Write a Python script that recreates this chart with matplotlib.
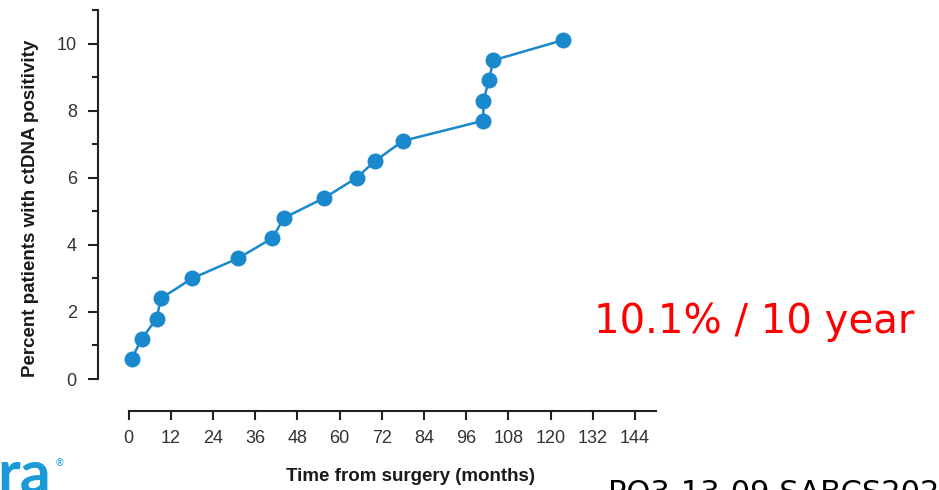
import matplotlib
matplotlib.use("Agg")
import matplotlib.pyplot as plt
from matplotlib.ticker import MultipleLocator

# Cumulative ctDNA positivity over time since surgery
months = [0.9, 3.75, 8.0, 9.2, 18.1, 31.2, 40.9, 44.2, 55.7, 64.9, 70.1,
          78.1, 100.9, 100.9, 102.5, 103.7, 123.5]
percent_positive = [0.6, 1.2, 1.8, 2.4, 3.0, 3.6, 4.2, 4.8, 5.4, 6.0, 6.5,
                    7.1, 7.7, 8.3, 8.9, 9.5, 10.1]

x_ticks = list(range(0, 145, 12))
y_ticks = [0, 2, 4, 6, 8, 10]

line_color = "#1a88cc"
axis_color = "#222222"
label_font = ["Liberation Sans", "DejaVu Sans"]

fig = plt.figure(figsize=(9.39, 4.90), dpi=100)
ax = fig.add_axes([0.13685, 0.22653, 0.56177, 0.75306])

ax.plot(months, percent_positive, color=line_color, lw=1.8,
        marker="o", markersize=11.5, markeredgewidth=0, clip_on=False)

ax.set_xlim(0, 150)
ax.set_ylim(0, 11)
ax.set_xticks(x_ticks)
ax.set_yticks(y_ticks)
ax.yaxis.set_minor_locator(MultipleLocator(1))

for side in ("top", "right"):
    ax.spines[side].set_visible(False)
ax.spines["left"].set_position(("outward", 22))
ax.spines["bottom"].set_position(("outward", 23))
for side in ("left", "bottom"):
    ax.spines[side].set_linewidth(1.5)
    ax.spines[side].set_color(axis_color)

ax.tick_params(axis="y", which="major", length=7.2, width=1.5, pad=8,
               color=axis_color, labelcolor="#333333", labelsize=13)
ax.tick_params(axis="y", which="minor", length=4.3, width=1.5,
               color=axis_color)
ax.tick_params(axis="x", which="major", length=6.5, width=1.5, pad=7,
               color=axis_color, labelcolor="#333333", labelsize=13)
for lab in ax.get_xticklabels() + ax.get_yticklabels():
    lab.set_family(label_font)

fig.text(31 / 939, 1 - 208 / 490, "Percent patients with ctDNA positivity",
         rotation=90, ha="center", va="center", fontsize=13.5,
         fontweight="bold", color="#1a1a1a", family=label_font)
fig.text(410 / 939, 1 - 476 / 490, "Time from surgery (months)",
         ha="center", va="center", fontsize=13.5, fontweight="bold",
         color="#1a1a1a", family=label_font)

# Annotation and footer
fig.text(594 / 939, 1 - 333 / 490, "10.1% / 10 year", color="#ff0000",
         fontsize=29, ha="left", va="baseline", family="DejaVu Sans")
fig.text(608 / 939, 1 - 502 / 490, "PO3-13-09 SABCS2023", color="black",
         fontsize=22, ha="left", va="baseline", family="DejaVu Sans")

# Logo fragment in the lower-left corner
fig.text(-3 / 939, 1 - 494 / 490, "ra", color="#1b9ad8", fontsize=44,
         fontweight="bold", ha="left", va="baseline", family="Lato")
fig.text(55 / 939, 1 - 466 / 490, "\u00ae", color="#1b9ad8", fontsize=7,
         ha="left", va="baseline", family="DejaVu Sans")

fig.savefig("out.png", dpi=100)
